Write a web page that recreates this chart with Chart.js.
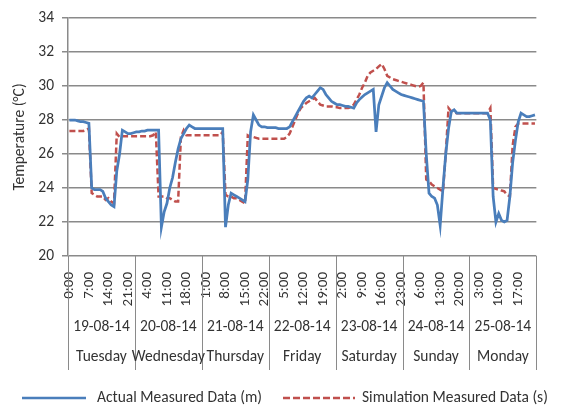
<!DOCTYPE html>
<html>
<head>
<meta charset="utf-8">
<script src="https://cdn.jsdelivr.net/npm/chart.js@4.4.0/dist/chart.umd.min.js"></script>
<style>
  html, body { margin: 0; padding: 0; background: #fff; }
</style>
</head>
<body>
<canvas id="tempChart" width="561" height="409"></canvas>
<script>
// hourly readings, 19-08-14 0:00 .. 25-08-14 23:00
const actual = [
  28.0, 28.0, 28.0, 27.95, 27.9, 27.9, 27.85, 27.8, 24.0, 23.9, 23.9, 23.9, 23.8, 23.4, 23.2, 23.0, 22.9, 25.0, 26.0, 27.4, 27.3, 27.2, 27.2, 27.25,
  27.3, 27.3, 27.35, 27.35, 27.4, 27.4, 27.4, 27.4, 27.4, 21.7, 22.6, 23.1, 24.0, 24.6, 25.5, 26.3, 26.9, 27.2, 27.5, 27.7, 27.6, 27.5, 27.5, 27.5,
  27.5, 27.5, 27.5, 27.5, 27.5, 27.5, 27.5, 27.5, 21.7, 23.0, 23.7, 23.6, 23.5, 23.4, 23.3, 23.2, 24.5, 27.3, 28.3, 28.0, 27.7, 27.6, 27.6, 27.55,
  27.55, 27.55, 27.55, 27.5, 27.5, 27.5, 27.5, 27.6, 27.9, 28.2, 28.5, 28.8, 29.1, 29.3, 29.4, 29.3, 29.5, 29.7, 29.9, 29.8, 29.5, 29.3, 29.1, 29.0,
  28.9, 28.9, 28.85, 28.8, 28.8, 28.75, 28.7, 29.0, 29.2, 29.35, 29.5, 29.6, 29.7, 29.8, 27.3, 28.9, 29.4, 29.9, 30.2, 30.0, 29.8, 29.7, 29.6, 29.5,
  29.45, 29.4, 29.35, 29.3, 29.25, 29.2, 29.15, 29.1, 26.0, 23.7, 23.5, 23.4, 23.0, 21.8, 24.0, 26.0, 27.5, 28.5, 28.6, 28.4, 28.4, 28.4, 28.4, 28.4,
  28.4, 28.4, 28.4, 28.4, 28.4, 28.4, 28.4, 28.0, 23.5, 22.0, 22.5, 22.1, 22.0, 22.1, 23.5, 25.5, 26.8, 27.9, 28.4, 28.3, 28.2, 28.2, 28.25, 28.3
];
const simulated = [
  27.35, 27.35, 27.35, 27.35, 27.35, 27.35, 27.4, 27.5, 23.7, 23.6, 23.5, 23.5, 23.5, 23.3, 23.4, 23.2, 23.1, 27.2, 27.0, 27.05, 27.05, 27.05, 27.05, 27.05,
  27.05, 27.05, 27.05, 27.05, 27.05, 27.05, 27.1, 27.3, 23.5, 23.5, 23.5, 23.4, 23.4, 23.3, 23.2, 23.2, 27.0, 27.4, 27.1, 27.1, 27.1, 27.1, 27.1, 27.1,
  27.1, 27.1, 27.1, 27.1, 27.1, 27.1, 27.1, 27.3, 23.6, 23.5, 23.5, 23.4, 23.4, 23.3, 23.2, 23.1, 27.1, 27.0, 27.0, 26.95, 26.9, 26.9, 26.9, 26.9,
  26.9, 26.9, 26.9, 26.9, 26.9, 26.9, 27.0, 27.2, 27.6, 28.0, 28.4, 28.7, 28.85, 29.0, 29.1, 29.2, 29.3, 29.1, 28.9, 28.85, 28.8, 28.8, 28.8, 28.75,
  28.75, 28.7, 28.7, 28.7, 28.7, 28.75, 28.9, 29.2, 29.5, 29.9, 30.2, 30.6, 30.8, 30.9, 31.0, 31.15, 31.3, 31.0, 30.6, 30.5, 30.4, 30.35, 30.3, 30.25,
  30.2, 30.15, 30.1, 30.05, 30.0, 29.95, 30.0, 30.2, 24.5, 24.4, 24.2, 24.1, 24.0, 23.9, 23.8, 26.0, 28.7, 28.5, 28.45, 28.4, 28.4, 28.4, 28.4, 28.4,
  28.4, 28.4, 28.4, 28.4, 28.4, 28.4, 28.4, 28.7, 24.0, 23.95, 23.9, 23.85, 23.8, 23.6, 23.5, 26.5, 27.6, 27.8, 27.8, 27.8, 27.8, 27.8, 27.8, 27.8
];
const dates = ["19-08-14", "20-08-14", "21-08-14", "22-08-14", "23-08-14", "24-08-14", "25-08-14"];
const days = ["Tuesday", "Wednesday", "Thursday", "Friday", "Saturday", "Sunday", "Monday"];
const labelEvery = 7;

const hours = [];
for (let d = 0; d < dates.length; d++) {
  for (let h = 0; h < 24; h++) hours.push(h + ":00");
}

const fontFamily = "Calibri, Carlito, 'Liberation Sans', Arial, sans-serif";
const gridColor = "#8a8a8a";
const textColor = "#333";
const blue = "#4a7ebb";
const red = "#c0504d";

// date + weekday rows under the hour ticks, plus the legend
const groupLabels = {
  id: "groupLabels",
  afterDraw(chart) {
    const { ctx, chartArea, scales } = chart;
    const x = scales.x;
    const base = chartArea.bottom;
    ctx.save();
    ctx.strokeStyle = gridColor;
    ctx.lineWidth = 1;
    for (let d = 0; d <= days.length; d++) {
      const px = Math.round(x.getPixelForValue(d * 24 - 0.5)) + 0.5;
      ctx.beginPath();
      ctx.moveTo(px, base);
      ctx.lineTo(px, base + 114);
      ctx.stroke();
    }
    ctx.fillStyle = textColor;
    ctx.font = "15.5px " + fontFamily;
    ctx.textAlign = "center";
    ctx.textBaseline = "middle";
    for (let d = 0; d < days.length; d++) {
      const cx = (x.getPixelForValue(d * 24 - 0.5) + x.getPixelForValue(d * 24 + 23.5)) / 2;
      ctx.fillText(dates[d], cx, base + 71);
      ctx.fillText(days[d], cx, base + 101);
    }

    // legend
    const ly = 398;
    ctx.textAlign = "left";
    ctx.lineWidth = 2.5;
    ctx.strokeStyle = blue;
    ctx.beginPath();
    ctx.moveTo(22, ly);
    ctx.lineTo(86, ly);
    ctx.stroke();
    ctx.fillText(chart.data.datasets[0].label, 97, ly);
    ctx.strokeStyle = red;
    ctx.setLineDash([7, 3]);
    ctx.beginPath();
    ctx.moveTo(283, ly);
    ctx.lineTo(355, ly);
    ctx.stroke();
    ctx.setLineDash([]);
    ctx.fillText(chart.data.datasets[1].label, 362, ly);
    ctx.restore();
  }
};

const ctx = document.getElementById("tempChart");

new Chart(ctx, {
  type: "line",
  data: {
    labels: hours,
    datasets: [
      {
        label: "Actual Measured Data (m)",
        data: actual,
        borderColor: blue,
        borderWidth: 2.75,
        pointRadius: 0,
        tension: 0,
        fill: false,
      },
      {
        label: "Simulation Measured Data (s)",
        data: simulated,
        borderColor: red,
        borderWidth: 2.5,
        borderDash: [6, 3],
        pointRadius: 0,
        tension: 0,
        fill: false,
      },
    ],
  },
  options: {
    responsive: false,
    animation: false,
    layout: { padding: { top: 18, right: 14, left: 0, bottom: 0 } },
    plugins: {
      legend: { display: false },
      tooltip: { enabled: false },
    },
    scales: {
      x: {
        offset: true,
        grid: { display: false },
        border: { display: false },
        ticks: {
          autoSkip: false,
          maxRotation: 90,
          minRotation: 90,
          padding: 8,
          color: textColor,
          font: { family: fontFamily, size: 15 },
          callback: (val, i) => (i % labelEvery === 0 ? hours[i] : ""),
        },
        afterFit: (scale) => { scale.height = 153; },
      },
      y: {
        min: 20,
        max: 34,
        ticks: {
          stepSize: 2,
          padding: 8,
          color: textColor,
          font: { family: fontFamily, size: 15.5 },
        },
        grid: { color: gridColor, lineWidth: 1.5, tickLength: 6 },
        border: { color: gridColor, width: 1.5 },
        title: {
          display: true,
          text: "Temperature (°C)",
          color: textColor,
          font: { family: fontFamily, size: 15.5 },
          padding: { top: 11, bottom: 0 },
        },
        afterFit: (scale) => { scale.width = 68; },
      },
    },
  },
  plugins: [groupLabels],
});
</script>
</body>
</html>
